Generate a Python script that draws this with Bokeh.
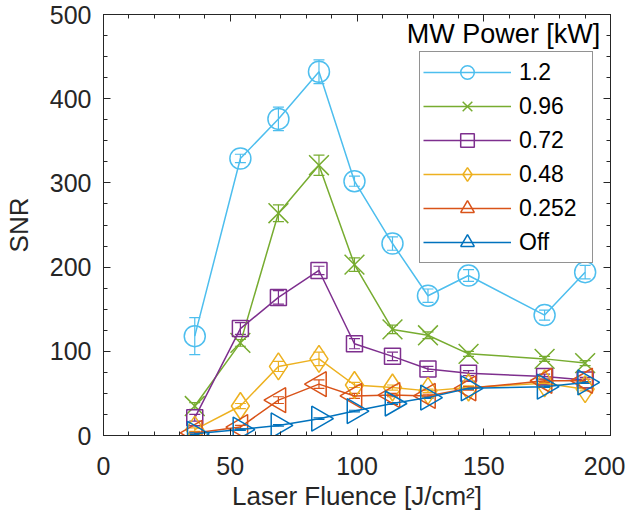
import numpy as np
from bokeh.plotting import figure
from bokeh.models import (Range1d, LinearAxis, Whisker, ColumnDataSource, FixedTicker,
                          Label, Legend, LegendItem, TeeHead)
from bokeh.embed import file_html
from bokeh.resources import INLINE

# ---- data ----
fluence = [36, 54, 69, 85, 99, 114, 128, 144, 174, 190]
series_labels = ["1.2", "0.96", "0.72", "0.48", "0.252", "Off"]

snr_1_2 = [118, 329, 376, 432, 302, 228, 166, 190, 143, 194]
err_1_2 = [22, 5, 14, 14, 6, 8, 8, 7, 6, 8]
snr_0_96 = [35, 110, 264, 321, 203, 126, 119, 97, 91, 86]
err_0_96 = [4, 4, 10, 12, 8, 5, 4, 3, 3, 3]
snr_0_72 = [21, 127, 164, 196, 109, 94, 79, 74, 70, 66]
err_0_72 = [4, 7, 8, 5, 6, 5, 3, 3, 3, 3]
snr_0_48 = [7, 35, 82, 91, 60, 57, 53, 57, 62, 55]
err_0_48 = [2, 3, 6, 8, 3, 3, 2, 2, 2, 2]
snr_0_252 = [3, 10, 42, 61, 47, 48, 47, 56, 65, 65]
err_0_252 = [1, 2, 4, 5, 3, 2, 2, 2, 2, 2]
snr_off = [2, 7, 12, 20, 29, 38, 45, 56, 58, 63]
err_off = [1, 1, 1, 1, 1, 1, 1, 1, 1, 1]

x_ticks = [0, 50, 100, 150, 200]
y_ticks = [0, 100, 200, 300, 400, 500]

snr_all = [snr_1_2, snr_0_96, snr_0_72, snr_0_48, snr_0_252, snr_off]
err_all = [err_1_2, err_0_96, err_0_72, err_0_48, err_0_252, err_off]

# ---- styles ----
colors = ["#4DBEEE", "#77AC30", "#7E2F8E", "#EDB120", "#D95319", "#0072BD"]
markers = ["circle", "x", "square", "diamond", "triangle", "triangle"]
sizes = [21, 28, 16, 27, 25, 25]
angles = [0, 0, 0, 0, np.pi / 2, -np.pi / 2]

FONT = "Liberation Sans"
AX = "#262626"

p = figure(width=625, height=519, output_backend="svg", toolbar_location=None,
           x_range=Range1d(0, 200), y_range=Range1d(0, 500),
           min_border_left=97, min_border_right=15, min_border_top=14, min_border_bottom=84)
p.grid.visible = False
p.outline_line_color = AX
p.outline_line_width = 1

for ax in (p.xaxis[0], p.yaxis[0]):
    ax.axis_line_color = AX
    ax.major_tick_line_color = AX
    ax.minor_tick_line_color = AX
    ax.major_tick_in = 7
    ax.major_tick_out = 0
    ax.minor_tick_in = 4
    ax.minor_tick_out = 0
    ax.major_label_text_font = FONT
    ax.major_label_text_font_size = "25px"
    ax.major_label_text_color = AX
    ax.axis_label_text_font = FONT
    ax.axis_label_text_font_size = "26px"
    ax.axis_label_text_font_style = "normal"
    ax.axis_label_text_color = AX

p.xaxis[0].ticker = FixedTicker(ticks=x_ticks, minor_ticks=list(range(0, 201, 10)))
p.yaxis[0].ticker = FixedTicker(ticks=y_ticks, minor_ticks=list(range(0, 501, 25)))
p.xaxis[0].axis_label = "Laser Fluence [J/cm²]"
p.yaxis[0].axis_label = "SNR"
p.xaxis[0].major_label_standoff = 21
p.yaxis[0].major_label_standoff = 12
p.xaxis[0].axis_label_standoff = 3
p.yaxis[0].axis_label_standoff = 13

for side, ticks, minors in (("above", x_ticks, list(range(0, 201, 10))),
                            ("right", y_ticks, list(range(0, 501, 25)))):
    a = LinearAxis(ticker=FixedTicker(ticks=ticks, minor_ticks=minors))
    a.major_label_text_font_size = "1px"
    a.major_label_text_color = None
    a.major_label_standoff = 0
    a.axis_line_color = AX
    a.major_tick_line_color = AX
    a.minor_tick_line_color = AX
    a.major_tick_in = 7
    a.major_tick_out = 0
    a.minor_tick_in = 4
    a.minor_tick_out = 0
    p.add_layout(a, side)

items = []
for lab, ys, es, c, m, s, ang in zip(series_labels, snr_all, err_all, colors, markers, sizes, angles):
    src = ColumnDataSource(dict(x=fluence, y=ys,
                                upper=[v + e for v, e in zip(ys, es)],
                                lower=[v - e for v, e in zip(ys, es)]))
    lr = p.line("x", "y", source=src, line_color=c, line_width=1.5)
    w = Whisker(source=src, base="x", upper="upper", lower="lower",
                line_color=c, line_width=1.2,
                upper_head=TeeHead(size=11, line_color=c, line_width=1.2),
                lower_head=TeeHead(size=11, line_color=c, line_width=1.2))
    p.add_layout(w)
    sr = p.scatter("x", "y", source=src, marker=m, size=s, angle=ang,
                   fill_color=None, line_color=c, line_width=1.5)
    items.append(LegendItem(label=lab, renderers=[lr, sr]))

legend = Legend(items=items, location=(316, 172))
legend.label_text_font = FONT
legend.label_text_font_size = "23px"
legend.label_text_color = "black"
legend.glyph_width = 88
legend.glyph_height = 34
legend.label_height = 34
legend.label_width = 70
legend.label_standoff = 8
legend.spacing = 0
legend.padding = 3
legend.margin = 0
legend.border_line_color = AX
legend.border_line_width = 1
legend.background_fill_color = "white"
legend.background_fill_alpha = 1
p.add_layout(legend, "center")

title = Label(x=196, y=477, text="MW Power [kW]", text_align="right",
              text_baseline="alphabetic", text_font=FONT,
              text_font_size="27px", text_color="black")
p.add_layout(title)

open("out.html", "w").write(file_html(p, INLINE))
